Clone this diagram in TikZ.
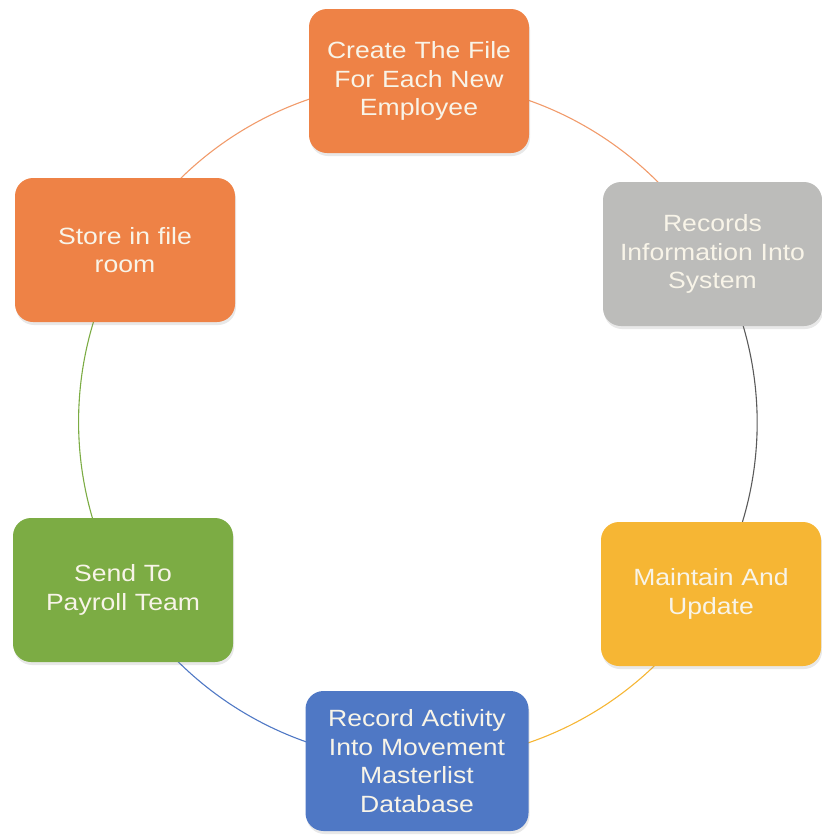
\documentclass[tikz,border=0pt]{standalone}
\usepackage{fontspec}
\setmainfont{Liberation Sans}
\newfontfamily\boxfont[FakeStretch=1.13]{Liberation Sans}
\usetikzlibrary{backgrounds,shadows}
\definecolor{corange}{RGB}{238,130,70}
\definecolor{cgray}{RGB}{188,188,186}
\definecolor{cgrayline}{RGB}{90,90,90}
\definecolor{cyellow}{RGB}{246,182,52}
\definecolor{cblue}{RGB}{79,120,197}
\definecolor{cgreen}{RGB}{124,172,68}
\definecolor{ctext}{RGB}{248,244,232}
\tikzset{
  stepbox/.style={rounded corners=18pt, minimum width=220pt, minimum height=144pt,
    text width=212pt, align=center, text=ctext, inner sep=0pt,
    font=\boxfont\fontsize{23.5}{28.5}\selectfont,
    drop shadow={opacity=0.18, shadow xshift=1pt, shadow yshift=-3pt}},
  ring/.style={line width=1.1pt, looseness=0.91, bend left=30}
}
\begin{document}
\begin{tikzpicture}[x=1pt,y=-1pt]
\useasboundingbox (0,0) rectangle (822,836);
\node[stepbox, fill=corange] (create) at (419,81) {Create The File\\For Each New\\Employee};
\node[stepbox, fill=cgray, minimum width=219pt] (records) at (712.5,254) {Records\\Information Into\\System};
\node[stepbox, fill=cyellow] (maintain) at (711,594) {Maintain And\\Update};
\node[stepbox, fill=cblue, minimum width=223pt, minimum height=140pt] (activity) at (417,761) {Record Activity\\Into Movement\\Masterlist\\Database};
\node[stepbox, fill=cgreen] (payroll) at (123,590) {Send To\\Payroll Team};
\node[stepbox, fill=corange] (store) at (125,250) {Store in file\\room};
\begin{scope}[on background layer]
\draw[ring, draw=corange!80] (store.center) to (create.center);
\draw[ring, draw=corange!80] (create.center) to (records.center);
\draw[ring, draw=cgrayline] (records.center) to (maintain.center);
\draw[ring, draw=cyellow] (maintain.center) to (activity.center);
\draw[ring, draw=cblue] (activity.center) to (payroll.center);
\draw[ring, draw=cgreen] (payroll.center) to (store.center);
\end{scope}
\end{tikzpicture}
\end{document}
